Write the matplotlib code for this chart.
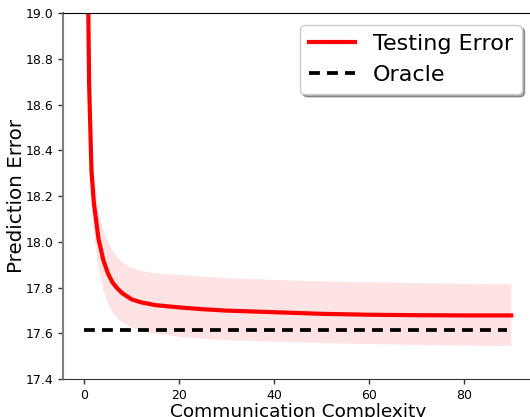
import numpy as np
import matplotlib
matplotlib.use("Agg")
import matplotlib.pyplot as plt

# mean testing error vs communication complexity
comm = [0, 1, 1.5, 2, 3, 4, 5, 6, 7, 8, 10, 12, 15, 20, 25, 30, 40, 50, 60, 70, 80, 90]
test_err = [20.6, 18.69, 18.31, 18.17, 18.01, 17.92, 17.86, 17.82, 17.795, 17.775, 17.748,
            17.735, 17.723, 17.713, 17.705, 17.699, 17.692, 17.685, 17.681, 17.679, 17.678, 17.678]
err_low = [20.47, 18.56, 18.18, 18.05, 17.88, 17.79, 17.73, 17.69, 17.665, 17.648, 17.625,
           17.612, 17.598, 17.585, 17.576, 17.570, 17.563, 17.557, 17.553, 17.549, 17.546, 17.544]
err_high = [20.73, 18.82, 18.44, 18.30, 18.14, 18.05, 18.00, 17.96, 17.93, 17.91, 17.885,
            17.872, 17.862, 17.855, 17.847, 17.841, 17.833, 17.827, 17.823, 17.819, 17.816, 17.814]
oracle_x = [0, 89]
oracle_y = [17.613, 17.613]

fig = plt.figure(figsize=(5.3, 4.17), dpi=100)
ax = fig.add_axes([0.1189, 0.0911, 0.886, 0.8777])

ax.fill_between(comm, err_low, err_high, color='#fde3e3', linewidth=0)
ax.plot(comm, test_err, color='red', lw=3, label='Testing Error')
ax.plot(oracle_x, oracle_y, color='black', lw=2.7, dashes=(2.9, 1.9), label='Oracle')

ax.set_xlim(-4.5, 94.5)
ax.set_ylim(17.4, 19.0)
ax.set_xticks([0, 20, 40, 60, 80])
ax.set_yticks(np.arange(17.4, 19.01, 0.2))
ax.set_yticklabels(['17.4', '17.6', '17.8', '18.0', '18.2', '18.4', '18.6', '18.8', '19.0'])
ax.tick_params(labelsize=9, length=3.5, width=1, colors='#333333', labelcolor='black')

ax.set_xlabel('Communication Complexity', fontsize=13.3, labelpad=1)
ax.set_ylabel('Prediction Error', fontsize=14.3, labelpad=-0.5)

ax.spines['left'].set_color('gray')
ax.spines['left'].set_linewidth(1.5)
ax.spines['bottom'].set_color('#333333')
ax.spines['top'].set_color('black')
ax.spines['right'].set_visible(False)

ax.legend(loc='upper right', bbox_to_anchor=(0.977, 0.967), fontsize=16, shadow=True,
          fancybox=True, handlelength=2.07, borderaxespad=0)

fig.savefig('out.png', dpi=100)
